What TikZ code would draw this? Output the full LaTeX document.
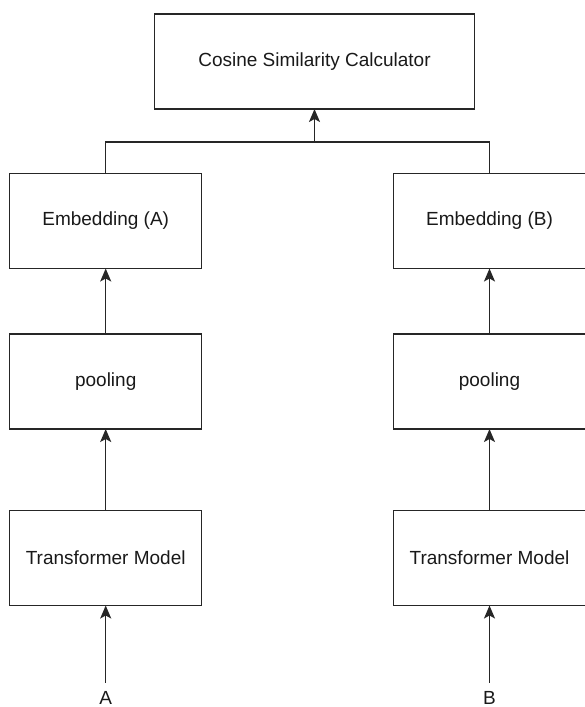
\documentclass[tikz,border=0pt]{standalone}
\usepackage{fontspec}
\setmainfont{Liberation Sans}
\usetikzlibrary{calc,arrows.meta}
\newcommand{\lineCol}{black!85}
\newcommand{\boxW}{192pt}
\newcommand{\boxH}{95pt}

\begin{document}
\begin{tikzpicture}[x=1pt,y=-1pt,inner sep=0pt,outer sep=0pt,
	font=\fontsize{19}{23}\selectfont,
	blk/.style={draw=\lineCol,line width=1.5pt,minimum width=\boxW,minimum height=\boxH,text=black!90},
	lbl/.style={inner sep=1pt,outer sep=7pt,text=black!90},
	arr/.style={draw=\lineCol,line width=1.5pt,-{Stealth[length=13pt,width=11pt,inset=3pt]}}]
	\useasboundingbox (0,0) rectangle (585,707);
	\node[blk,minimum width=320pt] (cos) at (314.5,61.5) {Cosine Similarity Calculator};
	
	\node[blk] (embA) at (105.7,221) {Embedding (A)};
	\node[blk] (poolA) at (105.7,381.5) {pooling};
	\node[blk] (trA) at (105.7,558) {Transformer Model};
	\node[lbl] (inA) at (105.7,697.5) {A};
	
	\node[blk] (embB) at (489.5,221) {Embedding (B)};
	\node[blk] (poolB) at (489.5,381.5) {pooling};
	\node[blk] (trB) at (489.5,558) {Transformer Model};
	\node[lbl] (inB) at (489.5,697.5) {B};
	
	\coordinate (join) at (314.5,142);
	\draw[draw=\lineCol,line width=1.5pt] (embA.north) |- (join) -| (embB.north);
	\draw[arr] (join) -- (cos.south);
	
	\draw[arr] (inA) -- (trA);
	\draw[arr] (trA) -- (poolA);
	\draw[arr] (poolA) -- (embA);
	\draw[arr] (inB) -- (trB);
	\draw[arr] (trB) -- (poolB);
	\draw[arr] (poolB) -- (embB);
	%\draw[arr] (embA.north) |- (cos.west);
\end{tikzpicture}
\end{document}
